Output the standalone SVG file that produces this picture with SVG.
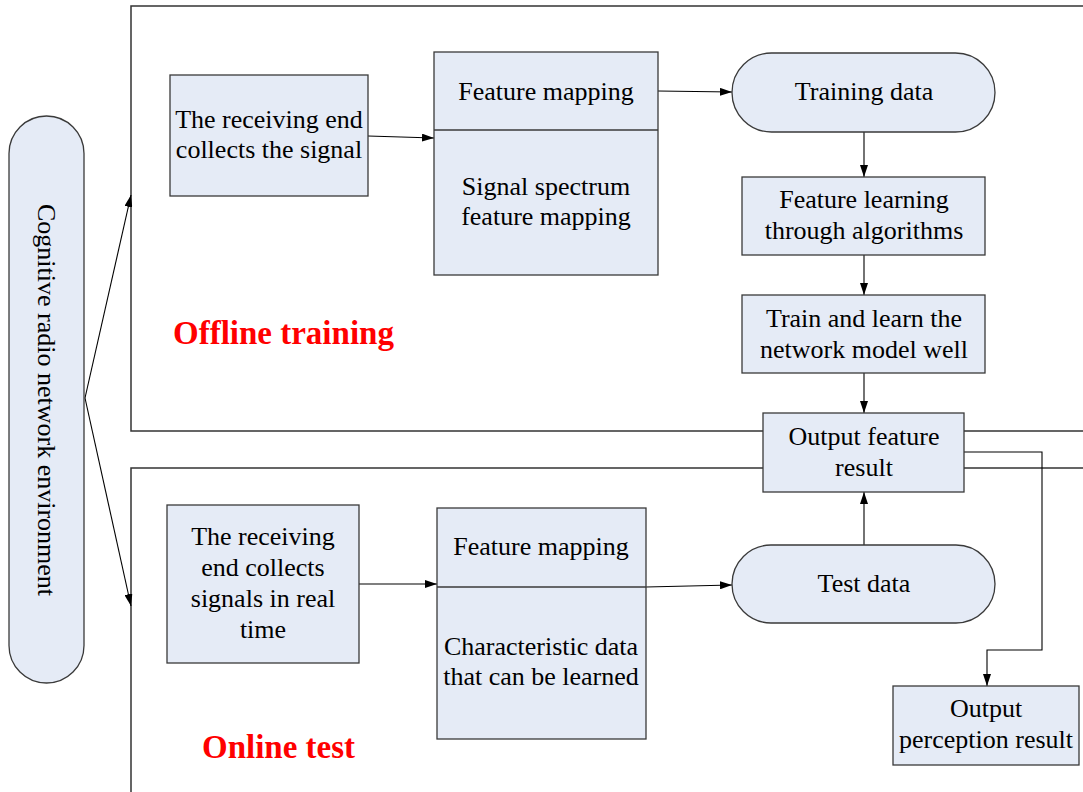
<svg xmlns="http://www.w3.org/2000/svg" width="1083" height="792" viewBox="0 0 1083 792">
<defs>
<marker id="ah" viewBox="0 0 12 8" refX="12" refY="4" markerWidth="12" markerHeight="8" markerUnits="userSpaceOnUse" orient="auto">
<path d="M0,0 L12,4 L0,8 Z" fill="#000"/>
</marker>
</defs>
<style>
.box{fill:#E5EBF6;stroke:#3a3a3a;stroke-width:1.3}
.panel{fill:none;stroke:#333;stroke-width:1.5}
.t{font-family:"Liberation Serif","Times New Roman",serif;font-size:26px;fill:#000;text-anchor:middle}
.lbl{font-family:"Liberation Serif","Times New Roman",serif;font-size:33px;font-weight:bold;fill:#FF0000}
.c{fill:none;stroke:#000;stroke-width:1.1}
</style>
<rect width="1083" height="792" fill="#fff"/>
<g id="panels">
<path class="panel" d="M1083,6 H131 V431 H1083"/>
<path class="panel" d="M1083,468 H131 V792"/>
</g>
<g id="connectors">
<path class="c" d="M85,398 L131,195" marker-end="url(#ah)"/>
<path class="c" d="M85,398 L131,606" marker-end="url(#ah)"/>
<path class="c" d="M368,136 L434,138" marker-end="url(#ah)"/>
<path class="c" d="M658,91 L732,92" marker-end="url(#ah)"/>
<path class="c" d="M864,132 V177" marker-end="url(#ah)"/>
<path class="c" d="M864,255 V295" marker-end="url(#ah)"/>
<path class="c" d="M864,373 V413" marker-end="url(#ah)"/>
<path class="c" d="M864,545 V492" marker-end="url(#ah)"/>
<path class="c" d="M359,584 L437,584" marker-end="url(#ah)"/>
<path class="c" d="M646,587 L732,585" marker-end="url(#ah)"/>
<path class="c" d="M964,452 H1042 V650 H987 V686" marker-end="url(#ah)"/>
</g>
<g id="env">
<rect class="box" x="9" y="116" width="75" height="567" rx="37.5" ry="37.5"/>
<text class="t" transform="translate(38,400) rotate(90)">Cognitive radio network environment</text>
</g>
<g id="offline-label"><text class="lbl" x="173" y="344">Offline training</text></g>
<g id="online-label"><text class="lbl" x="202" y="758">Online test</text></g>
<g id="recv1">
<rect class="box" x="170" y="75" width="198" height="121"/>
<text class="t" x="269" y="128">The receiving end</text>
<text class="t" x="269" y="158">collects the signal</text>
</g>
<g id="fmap1">
<rect class="box" x="434" y="52" width="224" height="223"/>
<line x1="434" y1="130" x2="658" y2="130" stroke="#3a3a3a" stroke-width="1.3"/>
<text class="t" x="546" y="100">Feature mapping</text>
<text class="t" x="546" y="195">Signal spectrum</text>
<text class="t" x="546" y="225">feature mapping</text>
</g>
<g id="train-data">
<rect class="box" x="732" y="53" width="263" height="79" rx="39.5" ry="39.5"/>
<text class="t" x="864" y="100">Training data</text>
</g>
<g id="feat-learn">
<rect class="box" x="742" y="177" width="243" height="78"/>
<text class="t" x="864" y="208">Feature learning</text>
<text class="t" x="864" y="239">through algorithms</text>
</g>
<g id="train-model">
<rect class="box" x="742" y="295" width="243" height="78"/>
<text class="t" x="864" y="327">Train and learn the</text>
<text class="t" x="864" y="358">network model well</text>
</g>
<g id="out-feat">
<rect class="box" x="763" y="413" width="201" height="79"/>
<text class="t" x="864" y="445">Output feature</text>
<text class="t" x="864" y="476">result</text>
</g>
<g id="recv2">
<rect class="box" x="167" y="505" width="192" height="158"/>
<text class="t" x="263" y="545">The receiving</text>
<text class="t" x="263" y="576">end collects</text>
<text class="t" x="263" y="607">signals in real</text>
<text class="t" x="263" y="638">time</text>
</g>
<g id="fmap2">
<rect class="box" x="437" y="508" width="209" height="231"/>
<line x1="437" y1="587" x2="646" y2="587" stroke="#3a3a3a" stroke-width="1.3"/>
<text class="t" x="541" y="555">Feature mapping</text>
<text class="t" x="541" y="655">Characteristic data</text>
<text class="t" x="541" y="685">that can be learned</text>
</g>
<g id="test-data">
<rect class="box" x="732" y="545" width="263" height="78" rx="39" ry="39"/>
<text class="t" x="864" y="592">Test data</text>
</g>
<g id="out-perc">
<rect class="box" x="893" y="686" width="186" height="79"/>
<text class="t" x="986" y="717">Output</text>
<text class="t" x="986" y="748">perception result</text>
</g>
</svg>
